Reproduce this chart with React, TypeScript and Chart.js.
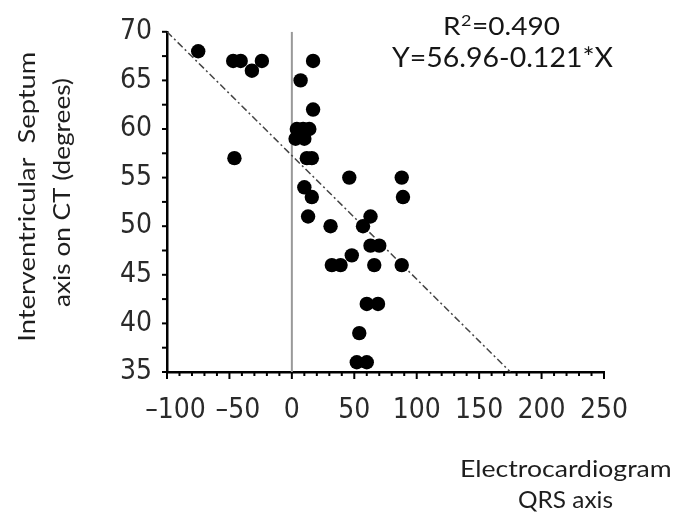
import React, { useEffect, useRef } from "react";
import { Chart, registerables } from "chart.js";

Chart.register(...registerables);

const qrsAxis = [-75, -47, -41, -32, -24, -46, 17, 7, 17, 4, 9, 14, 3, 10, 12, 16, 10, 16, 13, 46, 88, 89, 31, 57, 63, 63, 70, 48, 32, 39, 66, 88, 60, 69, 54, 52, 60];
const septumAxis = [68, 67, 67, 66, 67, 57, 67, 65, 62, 60, 60, 60, 59, 59, 57, 57, 54, 53, 51, 55, 55, 53, 50, 50, 51, 48, 48, 47, 46, 46, 46, 46, 42, 42, 39, 36, 36];
const fitLineX = [-100, 175];
const fitLineY = [70, 35];
const zeroLineX = [0, 0];
const zeroLineY = [35, 70];
const xTickRange = [-100, 250, 50];
const yTickRange = [35, 70, 5];
const r2Text = ["R", "2", "=0.490"];
const equationText = "Y=56.96-0.121*X";
const yTitleLines = ["Interventricular  Septum", "axis on CT (degrees)"];
const xTitleLines = ["Electrocardiogram", "QRS axis"];

const TEXT_FONT = "Lato, 'Open Sans', sans-serif";
const TICK_FONT = "'Liberation Sans Narrow', 'DejaVu Sans Condensed', sans-serif";

function drawFit(ctx: any, text: string, left: number, right: number, baseline: number, font: string) {
  ctx.save();
  ctx.font = font;
  ctx.textAlign = "left";
  ctx.textBaseline = "alphabetic";
  const w = ctx.measureText(text).width;
  const s = (right - left) / w;
  ctx.translate(left, baseline);
  ctx.scale(s, 1);
  ctx.fillText(text, 0, 0);
  ctx.restore();
}

const decorPlugin = {
  id: "decor",
  afterDraw(chart: any) {
    const ctx = chart.ctx;
    const ca = chart.chartArea;
    const xs = chart.scales.x;
    const ys = chart.scales.y;
    ctx.save();
    // tick marks
    ctx.strokeStyle = "#000";
    ctx.lineWidth = 2;
    for (let v = xTickRange[0]; v <= xTickRange[1]; v += 10) {
      const px = xs.getPixelForValue(v);
      const major = v % 50 === 0;
      ctx.beginPath();
      ctx.moveTo(px, ca.bottom);
      ctx.lineTo(px, ca.bottom + (major ? 7 : 4));
      ctx.stroke();
    }
    for (let v = yTickRange[0]; v <= yTickRange[1]; v += 2.5) {
      const py = ys.getPixelForValue(v);
      ctx.beginPath();
      ctx.moveTo(ca.left, py);
      ctx.lineTo(ca.left - 5, py);
      ctx.stroke();
    }
    // x tick labels
    ctx.fillStyle = "#2a2a2a";
    ctx.font = `28px ${TICK_FONT}`;
    ctx.textAlign = "center";
    ctx.textBaseline = "alphabetic";
    for (let v = xTickRange[0]; v <= xTickRange[1]; v += xTickRange[2]) {
      const px = xs.getPixelForValue(v);
      const label = v < 0 ? "\u2013" + String(-v) : String(v);
      ctx.fillText(label, px + (v < 0 ? 8.5 : 0), ca.bottom + 46);
    }
    ctx.fillStyle = "#151515";
    // R² annotation
    {
      ctx.save();
      const big = `25px ${TEXT_FONT}`;
      const small = `16px ${TEXT_FONT}`;
      ctx.font = big;
      const w0 = ctx.measureText(r2Text[0]).width;
      const w2 = ctx.measureText(r2Text[2]).width;
      ctx.font = small;
      const w1 = ctx.measureText(r2Text[1]).width + 1;
      const total = w0 + w1 + w2;
      const s = (560 - 443) / total;
      ctx.translate(443, 35);
      ctx.scale(s, 1);
      ctx.textBaseline = "alphabetic";
      ctx.textAlign = "left";
      ctx.font = big;
      ctx.fillText(r2Text[0], 0, 0);
      ctx.font = small;
      ctx.fillText(r2Text[1], w0 + 0.5, -9);
      ctx.font = big;
      ctx.fillText(r2Text[2], w0 + w1, 0);
      ctx.restore();
    }
    drawFit(ctx, equationText, 392, 613, 66.7, `26px ${TEXT_FONT}`);
    // x title
    ctx.fillStyle = "#1e1e1e";
    drawFit(ctx, xTitleLines[0], 460, 671.7, 476.7, `23px ${TEXT_FONT}`);
    drawFit(ctx, xTitleLines[1], 518, 613, 508.3, `23px ${TEXT_FONT}`);
    // y title (rotated)
    ctx.save();
    ctx.translate(35, 341.7);
    ctx.rotate(-Math.PI / 2);
    drawFit(ctx, yTitleLines[0], 0, 290, 0, `24px ${TEXT_FONT}`);
    ctx.restore();
    ctx.save();
    ctx.translate(70, 307);
    ctx.rotate(-Math.PI / 2);
    drawFit(ctx, yTitleLines[1], 0, 229, 0, `24px ${TEXT_FONT}`);
    ctx.restore();
    ctx.restore();
  },
};

export default function App() {
  const ref = useRef<HTMLCanvasElement | null>(null);
  useEffect(() => {
    if (!ref.current) return;
    const points = qrsAxis.map((x, i) => ({ x, y: septumAxis[i] }));
    const chart = new Chart(ref.current, {
      type: "scatter",
      data: {
        datasets: [
          {
            label: "patients",
            data: points,
            backgroundColor: "#000",
            borderColor: "#000",
            borderWidth: 0,
            pointRadius: 7.2,
            pointHoverRadius: 7.2,
          },
          {
            type: "line",
            label: "fit",
            data: fitLineX.map((x, i) => ({ x, y: fitLineY[i] })),
            borderColor: "#444",
            borderWidth: 1.5,
            borderDash: [7, 3, 2, 3],
            pointRadius: 0,
            fill: false,
          },
          {
            type: "line",
            label: "zero",
            data: zeroLineX.map((x, i) => ({ x, y: zeroLineY[i] })),
            borderColor: "#999",
            borderWidth: 2,
            pointRadius: 0,
            fill: false,
          },
        ],
      } as any,
      options: {
        animation: false,
        responsive: true,
        maintainAspectRatio: false,
        layout: { padding: { top: 24, right: 84, left: 0, bottom: 0 } },
        plugins: { legend: { display: false }, tooltip: { enabled: false } },
        scales: {
          x: {
            type: "linear",
            min: xTickRange[0],
            max: xTickRange[1],
            afterFit: (s: any) => { s.height = 141; },
            border: { display: true, color: "#000", width: 2.5 },
            grid: { display: false, drawTicks: false },
            ticks: {
              stepSize: xTickRange[2],
              display: false,
              autoSkip: false,
            },
          },
          y: {
            type: "linear",
            min: yTickRange[0],
            max: yTickRange[1],
            afterFit: (s: any) => { s.width = 167; },
            border: { display: true, color: "#000", width: 2.5 },
            grid: { display: false, drawTicks: false },
            ticks: {
              stepSize: yTickRange[2],
              padding: 15,
              labelOffset: 0,
              color: "#2a2a2a",
              font: { family: TICK_FONT, size: 28 },
              autoSkip: false,
            },
          },
        },
      },
      plugins: [decorPlugin],
    });
    return () => chart.destroy();
  }, []);
  return (
    <div style={{ position: "fixed", left: 0, top: 0, width: 688, height: 513, background: "#fff" }}>
      <canvas ref={ref} />
    </div>
  );
}
